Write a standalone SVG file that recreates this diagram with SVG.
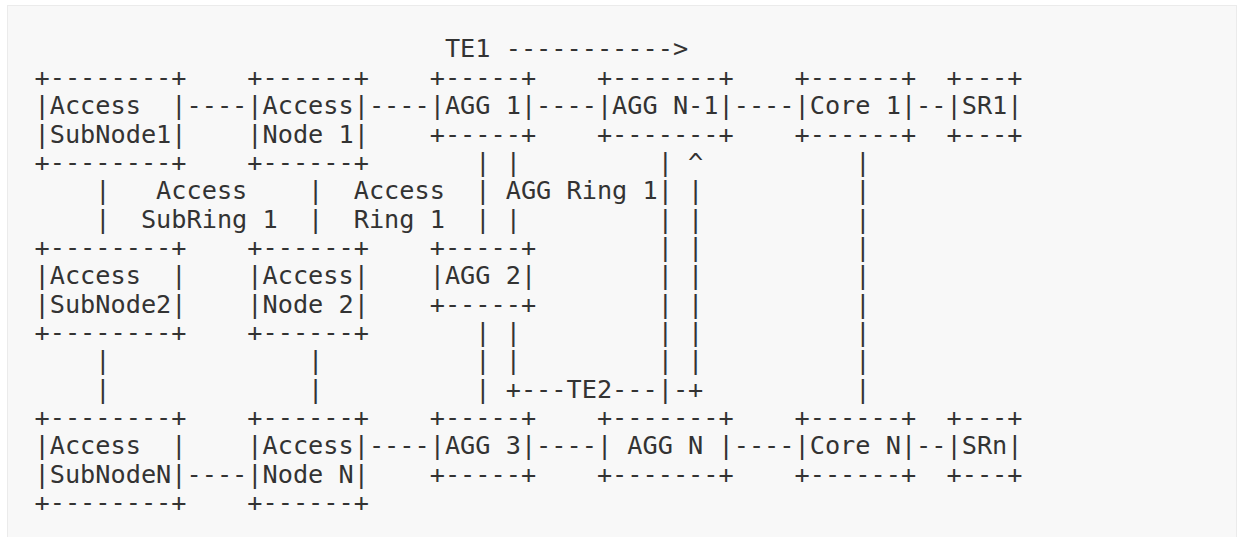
<svg xmlns="http://www.w3.org/2000/svg" width="1239" height="537" viewBox="0 0 1239 537" xml:space="preserve">
<style>
text { font-family: "DejaVu Sans Mono", "Liberation Mono", monospace; font-size: 25.25px; fill: #333333; white-space: pre; }
</style>
<rect x="0" y="0" width="1239" height="537" fill="#ffffff"/>
<rect x="7.5" y="5.5" width="1229" height="540" fill="#f8f8f8" stroke="#ebebeb" stroke-width="1"/>
<g id="access-subnode1">
<text x="34.5" y="85.8">+--------+</text>
<text x="34.5" y="114.1">|Access  |</text>
<text x="34.5" y="142.5">|SubNode1|</text>
<text x="34.5" y="170.8">+--------+</text>
</g>
<g id="access-node1">
<text x="247.3" y="85.8">+------+</text>
<text x="247.3" y="114.1">|Access|</text>
<text x="247.3" y="142.5">|Node 1|</text>
<text x="247.3" y="170.8">+------+</text>
</g>
<g id="agg1">
<text x="429.7" y="85.8">+-----+</text>
<text x="429.7" y="114.1">|AGG 1|</text>
<text x="429.7" y="142.5">+-----+</text>
</g>
<g id="agg-n-1">
<text x="596.9" y="85.8">+-------+</text>
<text x="596.9" y="114.1">|AGG N-1|</text>
<text x="596.9" y="142.5">+-------+</text>
</g>
<g id="core1">
<text x="794.5" y="85.8">+------+</text>
<text x="794.5" y="114.1">|Core 1|</text>
<text x="794.5" y="142.5">+------+</text>
</g>
<g id="sr1">
<text x="946.5" y="85.8">+---+</text>
<text x="946.5" y="114.1">|SR1|</text>
<text x="946.5" y="142.5">+---+</text>
</g>
<g id="access-subnode2">
<text x="34.5" y="255.9">+--------+</text>
<text x="34.5" y="284.3">|Access  |</text>
<text x="34.5" y="312.6">|SubNode2|</text>
<text x="34.5" y="341.0">+--------+</text>
</g>
<g id="access-node2">
<text x="247.3" y="255.9">+------+</text>
<text x="247.3" y="284.3">|Access|</text>
<text x="247.3" y="312.6">|Node 2|</text>
<text x="247.3" y="341.0">+------+</text>
</g>
<g id="agg2">
<text x="429.7" y="255.9">+-----+</text>
<text x="429.7" y="284.3">|AGG 2|</text>
<text x="429.7" y="312.6">+-----+</text>
</g>
<g id="access-subnodeN">
<text x="34.5" y="426.1">+--------+</text>
<text x="34.5" y="454.4">|Access  |</text>
<text x="34.5" y="482.8">|SubNodeN|</text>
<text x="34.5" y="511.2">+--------+</text>
</g>
<g id="access-nodeN">
<text x="247.3" y="426.1">+------+</text>
<text x="247.3" y="454.4">|Access|</text>
<text x="247.3" y="482.8">|Node N|</text>
<text x="247.3" y="511.2">+------+</text>
</g>
<g id="agg3">
<text x="429.7" y="426.1">+-----+</text>
<text x="429.7" y="454.4">|AGG 3|</text>
<text x="429.7" y="482.8">+-----+</text>
</g>
<g id="agg-n">
<text x="596.9" y="426.1">+-------+</text>
<text x="596.9" y="454.4">| AGG N |</text>
<text x="596.9" y="482.8">+-------+</text>
</g>
<g id="coreN">
<text x="794.5" y="426.1">+------+</text>
<text x="794.5" y="454.4">|Core N|</text>
<text x="794.5" y="482.8">+------+</text>
</g>
<g id="srn">
<text x="946.5" y="426.1">+---+</text>
<text x="946.5" y="454.4">|SRn|</text>
<text x="946.5" y="482.8">+---+</text>
</g>
<g id="connectors">
<text x="444.9" y="57.4">TE1 -----------&gt;</text>
<text x="186.5" y="114.1">----</text>
<text x="368.9" y="114.1">----</text>
<text x="536.1" y="114.1">----</text>
<text x="733.7" y="114.1">----</text>
<text x="916.1" y="114.1">--</text>
<text x="368.9" y="454.4">----</text>
<text x="536.1" y="454.4">----</text>
<text x="733.7" y="454.4">----</text>
<text x="916.1" y="454.4">--</text>
<text x="186.5" y="482.8">----</text>
<text x="475.3" y="170.8">| |</text>
<text x="657.7" y="170.8">| ^</text>
<text x="855.3" y="170.8">|</text>
<text x="95.3" y="199.2">|</text>
<text x="308.1" y="199.2">|</text>
<text x="475.3" y="199.2">|</text>
<text x="657.7" y="199.2">| |</text>
<text x="855.3" y="199.2">|</text>
<text x="95.3" y="227.6">|</text>
<text x="308.1" y="227.6">|</text>
<text x="475.3" y="227.6">| |</text>
<text x="657.7" y="227.6">| |</text>
<text x="855.3" y="227.6">|</text>
<text x="657.7" y="255.9">| |</text>
<text x="855.3" y="255.9">|</text>
<text x="657.7" y="284.3">| |</text>
<text x="855.3" y="284.3">|</text>
<text x="657.7" y="312.6">| |</text>
<text x="855.3" y="312.6">|</text>
<text x="475.3" y="341.0">| |</text>
<text x="657.7" y="341.0">| |</text>
<text x="855.3" y="341.0">|</text>
<text x="95.3" y="369.4">|</text>
<text x="308.1" y="369.4">|</text>
<text x="475.3" y="369.4">| |</text>
<text x="657.7" y="369.4">| |</text>
<text x="855.3" y="369.4">|</text>
<text x="95.3" y="397.7">|</text>
<text x="308.1" y="397.7">|</text>
<text x="475.3" y="397.7">| +---TE2---|-+</text>
<text x="855.3" y="397.7">|</text>
</g>
<g id="labels">
<text x="156.1" y="199.2">Access</text>
<text x="353.7" y="199.2">Access</text>
<text x="505.7" y="199.2">AGG Ring 1</text>
<text x="140.9" y="227.6">SubRing 1</text>
<text x="353.7" y="227.6">Ring 1</text>
</g>
</svg>
